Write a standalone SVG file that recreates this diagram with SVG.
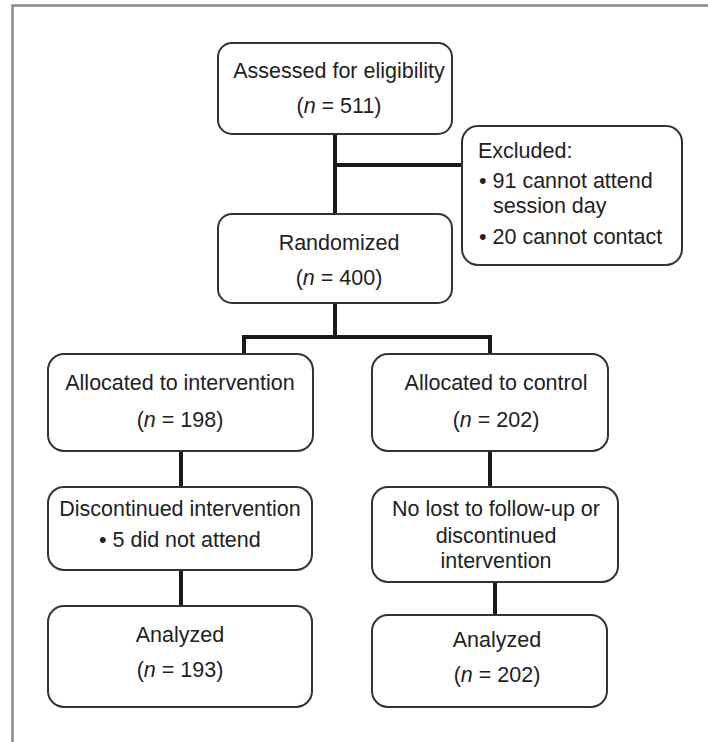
<svg xmlns="http://www.w3.org/2000/svg" width="708" height="742" viewBox="0 0 708 742">
<style>
.box{fill:#fff;stroke:#333;stroke-width:2}
.t{font-family:"Liberation Sans",Arial,sans-serif;font-size:21.5px;fill:#222}
.m{text-anchor:middle}
.i{font-style:italic}
.c{fill:none;stroke:#1a1a1a;stroke-width:4;stroke-linecap:butt;stroke-linejoin:miter}
.frame{fill:none;stroke:#8a8a8a;stroke-width:2.5}
</style>
<rect width="708" height="742" fill="#fff"/>
<path class="frame" d="M708,5.5 H12.5 V742"/>
<g id="connectors">
<path class="c" d="M335,134 V214"/>
<path class="c" d="M335,165 H462"/>
<path class="c" d="M335,303 V337"/>
<path class="c" d="M244,354 V337 H490 V354"/>
<path class="c" d="M181,451 V487"/>
<path class="c" d="M490,451 V487"/>
<path class="c" d="M181,570 V606"/>
<path class="c" d="M495,582 V615"/>
</g>
<g id="assessed">
<rect class="box" x="218" y="43" width="234" height="91" rx="14"/>
<text class="t m" x="339" y="78">Assessed for eligibility</text>
<text class="t m" x="339" y="113">(<tspan class="i">n</tspan> = 511)</text>
</g>
<g id="excluded">
<rect class="box" x="462" y="126" width="220" height="139" rx="16"/>
<text class="t" x="478" y="158">Excluded:</text>
<text class="t" x="479" y="188">• 91 cannot attend</text>
<text class="t" x="493" y="213">session day</text>
<text class="t" x="479" y="244">• 20 cannot contact</text>
</g>
<g id="randomized">
<rect class="box" x="218" y="214" width="234" height="89" rx="14"/>
<text class="t m" x="339" y="250">Randomized</text>
<text class="t m" x="339" y="285">(<tspan class="i">n</tspan> = 400)</text>
</g>
<g id="alloc-intervention">
<rect class="box" x="48" y="354" width="265" height="97" rx="16"/>
<text class="t m" x="180" y="390">Allocated to intervention</text>
<text class="t m" x="180" y="427">(<tspan class="i">n</tspan> = 198)</text>
</g>
<g id="alloc-control">
<rect class="box" x="372" y="354" width="236" height="97" rx="16"/>
<text class="t m" x="496" y="390">Allocated to control</text>
<text class="t m" x="496" y="427">(<tspan class="i">n</tspan> = 202)</text>
</g>
<g id="discontinued">
<rect class="box" x="48" y="487" width="264" height="83" rx="16"/>
<text class="t m" x="180" y="516">Discontinued intervention</text>
<text class="t" x="99" y="547">• 5 did not attend</text>
</g>
<g id="nolost">
<rect class="box" x="372" y="487" width="246" height="95" rx="16"/>
<text class="t m" x="496" y="516">No lost to follow-up or</text>
<text class="t m" x="496" y="543">discontinued</text>
<text class="t m" x="496" y="568">intervention</text>
</g>
<g id="analyzed-intervention">
<rect class="box" x="48" y="606" width="264" height="101" rx="16"/>
<text class="t m" x="180" y="642">Analyzed</text>
<text class="t m" x="180" y="677">(<tspan class="i">n</tspan> = 193)</text>
</g>
<g id="analyzed-control">
<rect class="box" x="372" y="615" width="235" height="92" rx="16"/>
<text class="t m" x="497" y="647">Analyzed</text>
<text class="t m" x="497" y="682">(<tspan class="i">n</tspan> = 202)</text>
</g>
</svg>
